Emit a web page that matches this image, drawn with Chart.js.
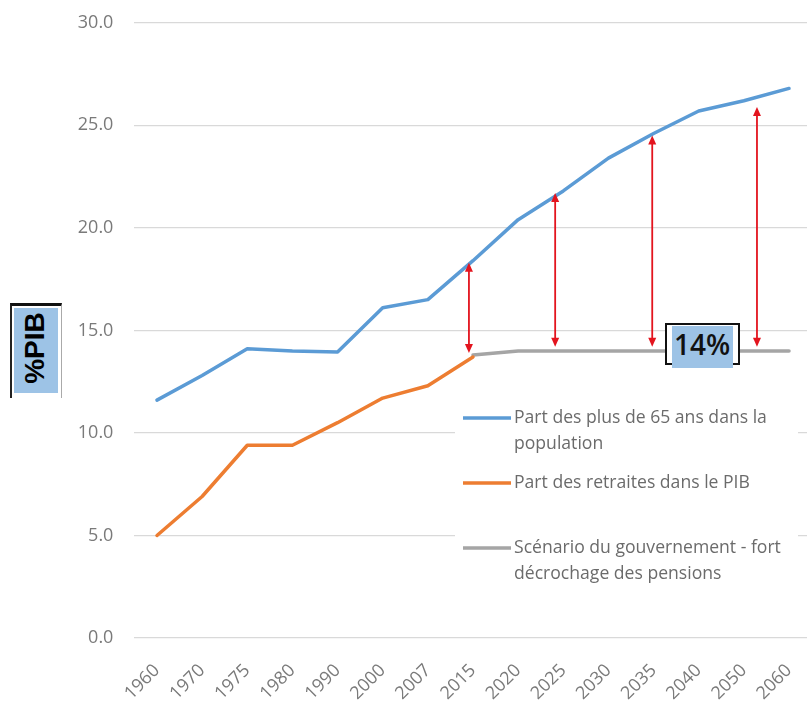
<!DOCTYPE html>
<html>
<head>
<meta charset="utf-8">
<script src="https://cdn.jsdelivr.net/npm/chart.js@4.4.1/dist/chart.umd.min.js"></script>
<style>
    html, body { margin: 0; padding: 0; background: #fff; overflow: hidden; }
    #wrap { position: relative; width: 807px; height: 706px; overflow: hidden; }
    #chart-box { position: absolute; left: 0; top: -9px; width: 830px; height: 715px; }
    .pib-box {
        position: absolute; left: 10px; top: 303px; width: 49px; height: 92px;
        background: #fff; border-top: 3px solid #111; border-left: 2px solid #222; border-right: 1px solid #aaa;
    }
    .pib-box .fill { position: absolute; left: 2px; top: 2px; width: 44px; height: 85px; background: #9dc3e6; }
    .pib-box span {
        position: absolute; left: 23px; top: 42px; transform: translate(-50%, -50%) rotate(-90deg);
        font: bold 28px "Liberation Sans", Arial, sans-serif; color: #000; white-space: nowrap;
    }
    .pct-box {
        position: absolute; left: 665px; top: 323px; width: 71px; height: 38px;
        background: #fff; border: 2px solid #111;
    }
    .pct-box .fill { position: absolute; left: 5px; top: 1px; width: 61px; height: 42px; background: #9dc3e6; }
    .pct-box span {
        position: absolute; left: 35px; top: 19px; transform: translate(-50%, -50%);
        font: 600 28px "Open Sans", sans-serif; color: #111; white-space: nowrap;
    }
</style>
</head>
<body>
<div id="wrap">
    <div id="chart-box"><canvas id="pensionChart" width="830" height="715"></canvas></div>
    <div class="pib-box"><div class="fill"></div><span>%PIB</span></div>
    <div class="pct-box"><div class="fill"></div><span>14%</span></div>
</div>
<script>
const years = ['1960', '1970', '1975', '1980', '1990', '2000', '2007', '2015', '2020', '2025', '2030', '2035', '2040', '2050', '2060'];
const seniorsShare = [11.6, 12.8, 14.1, 14.0, 13.95, 16.1, 16.5, 18.4, 20.4, 21.8, 23.4, 24.6, 25.7, 26.2, 26.8];
const pensionsShare = [5.0, 6.9, 9.4, 9.4, 10.5, 11.7, 12.3, 13.7, null, null, null, null, null, null, null];
const govScenario = [null, null, null, null, null, null, null, 13.8, 14.0, 14.0, 14.0, 14.0, 14.0, 14.0, 14.0];
const yTicks = [0, 5, 10, 15, 20, 25, 30];

// red double arrows (category index, top value, bottom value)
const arrowIdx = [6.91, 8.82, 10.97, 13.29];
const arrowTop = [18.3, 21.7, 24.5, 25.9];
const arrowBottom = [13.9, 14.2, 14.2, 14.2];

const legendItems = [
    { color: '#5b9bd5', lines: ['Part des plus de 65 ans dans la', 'population'] },
    { color: '#ed7d31', lines: ['Part des retraites dans le PIB'] },
    { color: '#a5a5a5', lines: ['Scénario du gouvernement - fort', 'décrochage des pensions'] }
];

// canvas sits 9px higher than the page, so legend rows are shifted by +9
const legendPlugin = {
    id: 'sideLegend',
    beforeDatasetsDraw(chart) {
        const ctx = chart.ctx;
        ctx.save();
        ctx.fillStyle = '#fff';
        ctx.fillRect(455, 405, 343, 196);
        const rowY = [427, 492, 557];
        ctx.font = '17.6px "Open Sans", sans-serif';
        ctx.textBaseline = 'middle';
        ctx.fillStyle = '#6b6b6b';
        legendItems.forEach((item, i) => {
            ctx.strokeStyle = item.color;
            ctx.lineWidth = 3.5;
            ctx.beginPath();
            ctx.moveTo(463, rowY[i]);
            ctx.lineTo(511, rowY[i]);
            ctx.stroke();
            item.lines.forEach((t, j) => {
                ctx.fillText(t, 514, rowY[i] + j * 26);
            });
        });
        ctx.restore();
    }
};

const arrowPlugin = {
    id: 'gapArrows',
    afterDatasetsDraw(chart) {
        const ctx = chart.ctx;
        const xs = chart.scales.x;
        const ys = chart.scales.y;
        ctx.save();
        ctx.strokeStyle = '#e3141e';
        ctx.fillStyle = '#e3141e';
        ctx.lineWidth = 1.8;
        arrowIdx.forEach((idx, i) => {
            const x = xs.getPixelForValue(idx);
            const y1 = ys.getPixelForValue(arrowTop[i]);
            const y2 = ys.getPixelForValue(arrowBottom[i]);
            ctx.beginPath();
            ctx.moveTo(x, y1 + 6);
            ctx.lineTo(x, y2 - 6);
            ctx.stroke();
            ctx.beginPath();
            ctx.moveTo(x, y1);
            ctx.lineTo(x - 4, y1 + 9);
            ctx.lineTo(x + 4, y1 + 9);
            ctx.closePath();
            ctx.fill();
            ctx.beginPath();
            ctx.moveTo(x, y2);
            ctx.lineTo(x - 4, y2 - 9);
            ctx.lineTo(x + 4, y2 - 9);
            ctx.closePath();
            ctx.fill();
        });
        ctx.restore();
    }
};

const ctx = document.getElementById('pensionChart').getContext('2d');
new Chart(ctx, {
    type: 'line',
    data: {
        labels: years,
        datasets: [
            { label: 'Part des plus de 65 ans dans la population', data: seniorsShare, borderColor: '#5b9bd5', borderWidth: 3.5 },
            { label: 'Part des retraites dans le PIB', data: pensionsShare, borderColor: '#ed7d31', borderWidth: 3.5 },
            { label: 'Scénario du gouvernement - fort décrochage des pensions', data: govScenario, borderColor: '#a5a5a5', borderWidth: 3.5 }
        ]
    },
    options: {
        responsive: false,
        animation: false,
        events: [],
        elements: { point: { radius: 0 }, line: { tension: 0, borderCapStyle: 'round', borderJoinStyle: 'round' } },
        layout: { padding: { top: 13, right: 18.4, left: 0, bottom: 0 } },
        plugins: { legend: { display: false }, tooltip: { enabled: false } },
        scales: {
            x: {
                offset: true,
                grid: { display: false, drawTicks: false },
                border: { display: false },
                ticks: {
                    autoSkip: false, minRotation: 45, maxRotation: 45, padding: 22,
                    color: '#7a7a7a', font: { family: 'Open Sans', size: 18 }
                },
                afterFit(scale) { scale.height = 68; }
            },
            y: {
                min: 0, max: 30,
                afterBuildTicks(scale) { scale.ticks = yTicks.map(v => ({ value: v })); },
                grid: { color: '#d9d9d9', lineWidth: 1.3, drawTicks: false },
                border: { display: false },
                ticks: {
                    padding: 21, color: '#7a7a7a', font: { family: 'Open Sans', size: 18 },
                    callback: v => v.toFixed(1)
                },
                afterFit(scale) { scale.width = 134.4; }
            }
        }
    },
    plugins: [legendPlugin, arrowPlugin]
});
</script>
</body>
</html>
